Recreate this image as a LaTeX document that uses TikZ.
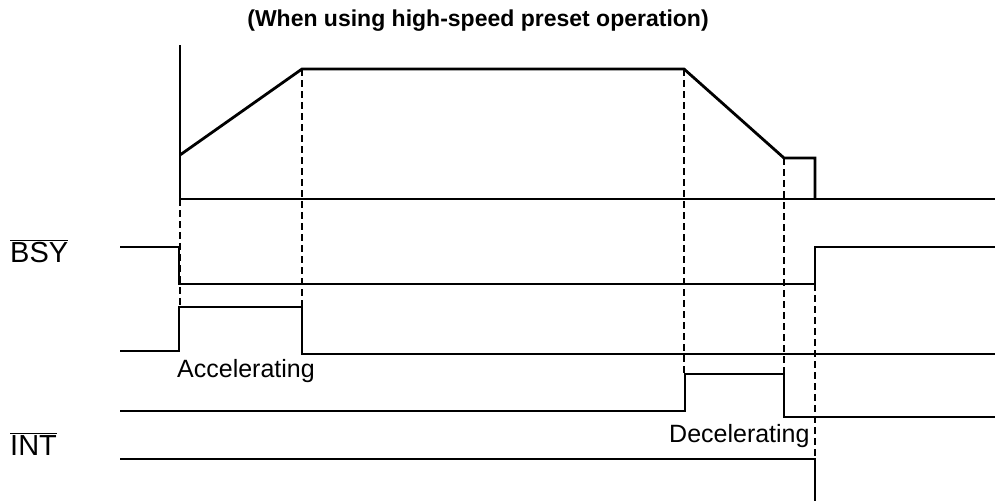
\documentclass[tikz,border=0pt]{standalone}
\usepackage{fontspec}
\setmainfont{Liberation Sans}
\usetikzlibrary{positioning}
\tikzset{
    sigwave/.style={line width=2.8pt, line join=miter},
    sigguide/.style={line width=1.8pt, dash pattern=on 7pt off 4pt},
    siglabel/.style={font=\fontsize{29}{29}\selectfont, inner sep=0pt, anchor=base west},
    sigphase/.style={font=\fontsize{25}{25}\selectfont, inner sep=0pt, anchor=base west},
    sigtitle/.style={font=\bfseries\fontsize{23}{23}\selectfont, inner sep=0pt, anchor=base}
}

\begin{document}
\begin{tikzpicture}[x=1pt, y=-1pt]
  \useasboundingbox (0,0) rectangle (995,501);
  \node[sigtitle] (title) at (478,26) {(When using high-speed preset operation)};
  \node[siglabel] (bsy) at (10,262) {$\overline{\mbox{BSY}}$};
  \node[siglabel] (int) at (10,455) {$\overline{\mbox{INT}}$};
  \node[sigphase] (acc) at (177,377) {Accelerating};
  \node[sigphase] (dec) at (669,442) {Decelerating};
  % speed profile
  \draw[sigwave] (180,45) -- (180,199) -- (995,199);
  \draw[sigwave] (180,155) -- (302,69) -- (684,69) -- (784,158) -- (815,158) -- (815,199);
  % busy
  \draw[sigwave] (120,247) -- (179,247) -- (179,284) -- (815,284) -- (815,247) -- (995,247);
  % accel / decel
  \draw[sigwave] (120,351) -- (179,351) -- (179,307) -- (302,307) -- (302,354) -- (995,354);
  \draw[sigwave] (120,411) -- (685,411) -- (685,374) -- (784,374) -- (784,417) -- (995,417);
  % interrupt
  \draw[sigwave] (120,459) -- (815,459) -- (815,501);
  % timing guides
  \draw[sigguide] (180,199) -- (180,307);
  \draw[sigguide] (302,69) -- (302,307);
  \draw[sigguide] (684,69) -- (684,374);
  \draw[sigguide] (784,158) -- (784,374);
  \draw[sigguide] (815,284) -- (815,459);
\end{tikzpicture}
\end{document}
